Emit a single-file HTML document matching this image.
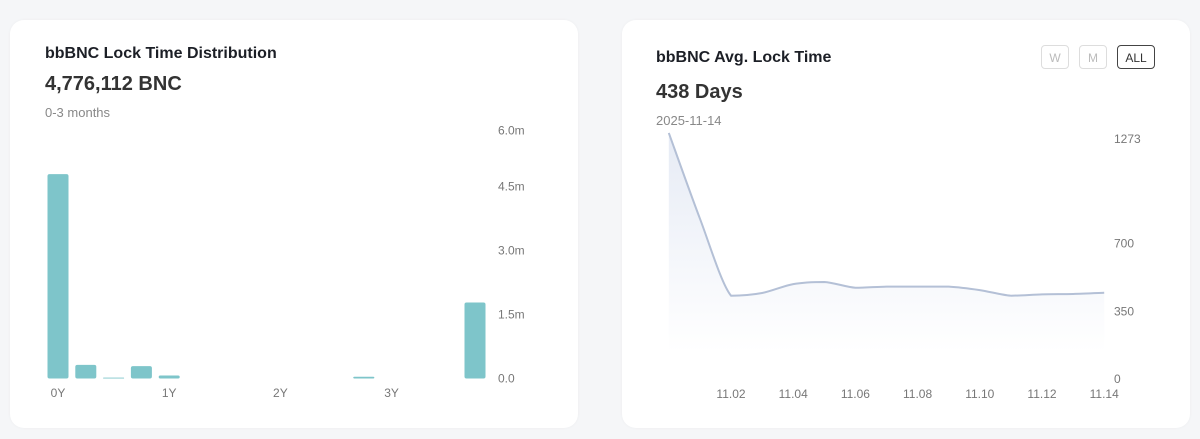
<!DOCTYPE html>
<html><head><meta charset="utf-8"><style>
body{margin:0;width:1200px;height:439px;background:#f5f6f8;font-family:"Liberation Sans",sans-serif;position:relative;overflow:hidden}
.card{position:absolute;top:20px;height:408px;background:#fff;border-radius:14px;box-shadow:0 0 3px rgba(0,0,0,0.04)}
.t{position:absolute;color:#1c1f26}
.btn{position:absolute;top:45px;height:24px;border:1px solid #ddd;border-radius:4px;font-size:12px;color:#bbb;text-align:center;line-height:24px;box-sizing:border-box}
svg text{font-family:"Liberation Sans",sans-serif;font-size:12px;fill:#777}
</style></head><body>
<div class="card" style="left:10px;width:568px"></div>
<div class="card" style="left:622px;width:568px"></div>
<div class="t" style="left:45px;top:45px;font-size:16px;font-weight:bold">bbBNC Lock Time Distribution</div>
<div class="t" style="left:45px;top:73px;font-size:20px;font-weight:bold;color:#333">4,776,112 BNC</div>
<div class="t" style="left:45px;top:105px;font-size:13px;color:#888">0-3 months</div>
<div class="t" style="left:656px;top:49px;font-size:16px;font-weight:bold">bbBNC Avg. Lock Time</div>
<div class="t" style="left:656px;top:81px;font-size:20px;font-weight:bold;color:#333">438 Days</div>
<div class="t" style="left:656px;top:113px;font-size:13px;color:#888">2025-11-14</div>
<div class="btn" style="left:1041px;width:28px">W</div>
<div class="btn" style="left:1079px;width:28px">M</div>
<div class="btn" style="left:1117px;width:38px;border-color:#444;color:#333">ALL</div>
<svg id="c" width="1200" height="439" style="position:absolute;left:0;top:0">
<defs><linearGradient id="g" x1="0" y1="0" x2="0" y2="1"><stop offset="0" stop-color="#e6ebf5"/><stop offset="1" stop-color="#fff"/></linearGradient></defs>
</svg>
<script>
const barValues=[4.79,0.32,0.02,0.29,0.07,0,0,0,0,0,0,0.04,0,0,0,1.78];
const barTicks=[0,1.5,3,4.5,6];
const barTickLabels=["0.0","1.5m","3.0m","4.5m","6.0m"];
const yearLabels=["0Y","1Y","2Y","3Y"];
const lineDates=["10.31","11.01","11.02","11.03","11.04","11.05","11.06","11.07","11.08","11.09","11.10","11.11","11.12","11.13","11.14"];
const lineValues=[1273,830,431,445,491,502,472,478,478,478,460,431,438,440,446];
const lineTicks=[0,350,700,1273];
const lineXLabels=["11.02","11.04","11.06","11.08","11.10","11.12","11.14"];
const S=document.getElementById('c'),N='http://www.w3.org/2000/svg';
function mk(t,a,txt){const e=document.createElementNS(N,t);for(const k in a)e.setAttribute(k,a[k]);if(txt!==undefined)e.textContent=txt;S.appendChild(e);return e;}
// bar chart
const bx=i=>58+i*27.8, by=v=>378.5-v*42.67;
barValues.forEach((v,i)=>{const h=378.5-by(v);if(h<=0)return;
const r=mk('rect',{x:bx(i)-10.5,y:by(v),width:21,height:Math.max(h,0.8),rx:Math.min(2,h/2),fill:'#7ec5ca'});

});
barTicks.forEach((t,i)=>{let y=by(t)+4;if(i===barTicks.length-1)y+=8;const e=mk('text',{x:498,y:y},barTickLabels[i]);

});
yearLabels.forEach((l,i)=>{const e=mk('text',{x:bx(i*4),y:397,'text-anchor':'middle'},l);

});
// line chart
const lx=i=>668.8+i*31.1, ly=v=>379-v*0.1933;
const pts=lineValues.map((v,i)=>[lx(i),ly(v)]);
let d='M'+pts[0][0]+','+pts[0][1];
const k=0.15;
function cy(p1,p2,c){const lo=Math.min(p1[1],p2[1]),hi=Math.max(p1[1],p2[1]);return Math.max(lo,Math.min(hi,c));}
for(let i=0;i<pts.length-1;i++){const p0=pts[Math.max(0,i-1)],p1=pts[i],p2=pts[i+1],p3=pts[Math.min(pts.length-1,i+2)];
const c1y=cy(p1,p2,p1[1]+(p2[1]-p0[1])*k),c2y=cy(p1,p2,p2[1]-(p3[1]-p1[1])*k);
d+='C'+(p1[0]+(p2[0]-p0[0])*k)+','+c1y+' '+(p2[0]-(p3[0]-p1[0])*k)+','+c2y+' '+p2[0]+','+p2[1];}
const a=mk('path',{d:d+'L'+lx(lineValues.length-1)+',352L'+lx(0)+',352Z',fill:'url(#g)'});


const p=mk('path',{d:d,fill:'none',stroke:'#b4c0d6','stroke-width':2,'stroke-linejoin':'round'});


lineTicks.forEach(t=>{let y=ly(t)+4;if(t===1273)y+=6;const e=mk('text',{x:1114,y:y},String(t));

});
lineXLabels.forEach(l=>{const i=lineDates.indexOf(l);const e=mk('text',{x:lx(i),y:398,'text-anchor':'middle'},l);

});
</script>
</body></html>
